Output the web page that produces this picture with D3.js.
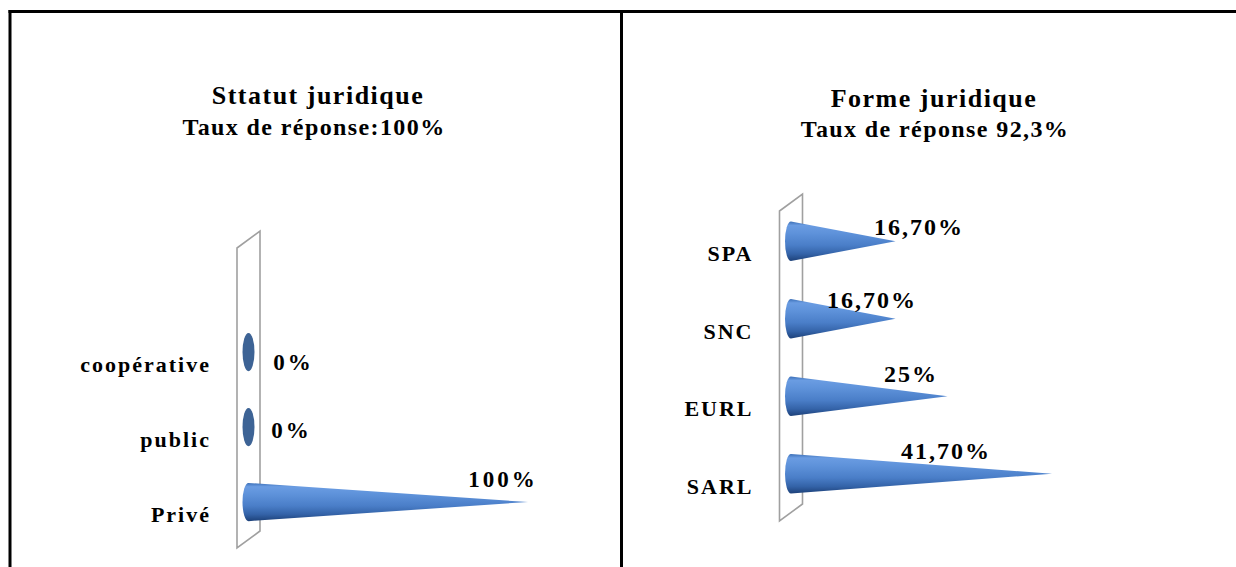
<!DOCTYPE html>
<html>
<head>
<meta charset="utf-8">
<script src="https://cdn.jsdelivr.net/npm/d3@7"></script>
<style>
  html, body { margin: 0; padding: 0; background: #fff; }
  svg { display: block; }
  text { font-family: "Liberation Serif", "Times New Roman", serif; font-weight: bold; fill: #000; }
</style>
</head>
<body>
<svg id="chart" width="1236" height="567"></svg>
<script>
// Statut juridique (left panel)
const statutCategories = ["coopérative", "public", "Privé"];
const statutValues = [0, 0, 100];

// Forme juridique (right panel)
const formeCategories = ["SPA", "SNC", "EURL", "SARL"];
const formeValues = [16.7, 16.7, 25, 41.7];

const titles = ["Sttatut juridique", "Forme juridique"];
const subtitles = ["Taux de réponse:100%", "Taux de réponse 92,3%"];

// Percent labels: integers stay plain, others keep two decimals with a comma
const fmtPct = v => Number.isInteger(v) ? v + "%" : v.toFixed(2).replace(".", ",") + "%";

const svg = d3.select("#chart");

// frame lines
svg.append("line").attr("x1", 8.5).attr("x2", 1236).attr("y1", 11.5).attr("y2", 11.5)
  .attr("stroke", "#000").attr("stroke-width", 3);
svg.append("line").attr("x1", 10).attr("x2", 10).attr("y1", 10).attr("y2", 567)
  .attr("stroke", "#000").attr("stroke-width", 3);
svg.append("line").attr("x1", 621.5).attr("x2", 621.5).attr("y1", 10).attr("y2", 567)
  .attr("stroke", "#000").attr("stroke-width", 3);

// cone shading
const defs = svg.append("defs");
const grad = defs.append("linearGradient").attr("id", "coneFill")
  .attr("x1", 0).attr("y1", 0).attr("x2", 0).attr("y2", 1);
[[0, "#3c70b8"], [0.1, "#6a9ce2"], [0.3, "#5e92da"], [0.6, "#4a7ec8"], [0.82, "#3463a8"], [1, "#1d4179"]]
  .forEach(([o, c]) => grad.append("stop").attr("offset", o).attr("stop-color", c));

const depthX = 23, depthY = 17;

function drawPanel(cfg) {
  const g = svg.append("g");

  // titles
  g.append("text").attr("x", cfg.titleX).attr("y", cfg.titleY)
    .attr("text-anchor", "middle").style("font-size", "26px").style("letter-spacing", "1.5px")
    .text(cfg.title);
  g.append("text").attr("x", cfg.subX).attr("y", cfg.subY)
    .attr("text-anchor", "middle").style("font-size", "24px").style("letter-spacing", "1.4px")
    .text(cfg.subtitle);

  const x = d3.scaleLinear().domain(cfg.xDomain).range(cfg.xRange);
  const y = d3.scaleBand().domain(cfg.categories).range(cfg.yRange).padding(0);

  // side wall (category axis plane)
  const x0 = x(0);
  const fx = x0 - depthX / 2, bx = x0 + depthX / 2;
  const [wt, wb] = cfg.wallRange;
  const wall = d3.path();
  wall.moveTo(fx, wt + depthY / 2);
  wall.lineTo(fx, wb + depthY / 2);
  wall.lineTo(bx, wb - depthY / 2);
  wall.lineTo(bx, wt - depthY / 2);
  wall.closePath();
  g.append("path").attr("d", wall.toString())
    .attr("fill", "#fff").attr("stroke", "#a0a0a0").attr("stroke-width", 1.6);

  const data = cfg.categories.map((c, i) => ({ c, v: cfg.values[i], i }));
  const hh = y.bandwidth() * 0.255;
  const rx = 6;

  // cones: a zero value leaves only the base disc
  data.forEach(d => {
    const cy = y(d.c) + y.bandwidth() / 2;
    if (d.v === 0) {
      g.append("ellipse").attr("cx", x0).attr("cy", cy).attr("rx", rx).attr("ry", hh)
        .attr("fill", "#3d6395");
    } else {
      const p = d3.path();
      p.moveTo(x0, cy - hh);
      p.lineTo(x(d.v), cy);
      p.lineTo(x0, cy + hh);
      const dStr = p.toString() + `A${rx},${hh} 0 0 1 ${x0},${cy - hh}Z`;
      g.append("path").attr("d", dStr).attr("fill", "url(#coneFill)");
    }
  });

  // category labels
  data.forEach(d => {
    const cy = y(d.c) + y.bandwidth() / 2;
    g.append("text").attr("x", fx - 26).attr("y", cy + 20)
      .attr("text-anchor", "end").style("font-size", "22px").style("letter-spacing", "2px")
      .text(d.c);
  });

  // value labels
  data.forEach(d => {
    const cy = y(d.c) + y.bandwidth() / 2;
    const [dx, dy] = cfg.labelNudge[d.i];
    g.append("text").attr("x", x(d.v) + dx).attr("y", cy + dy)
      .attr("text-anchor", "middle").style("font-size", cfg.valueSize).style("letter-spacing", cfg.valueSpacing)
      .text(fmtPct(d.v));
  });
}

drawPanel({
  categories: statutCategories, values: statutValues,
  title: titles[0], subtitle: subtitles[0],
  titleX: 318, titleY: 104, subX: 314, subY: 135,
  xDomain: [0, 100], xRange: [248.5, 528],
  yRange: [314.5, 539.5], wallRange: [239.5, 539.5],
  valueSize: "23px", valueSpacing: "3px",
  labelNudge: [[45, 18], [43, 11], [-25, -15]]
});

drawPanel({
  categories: formeCategories, values: formeValues,
  title: titles[1], subtitle: subtitles[1],
  titleX: 934, titleY: 107, subX: 935, subY: 137,
  xDomain: [0, 50], xRange: [791, 1104],
  yRange: [202.5, 512.5], wallRange: [202.5, 512.5],
  valueSize: "24px", valueSpacing: "2px",
  labelNudge: [[23.5, -6], [-23.5, -11], [-36.5, -14], [-106, -15]]
});
</script>
</body>
</html>
